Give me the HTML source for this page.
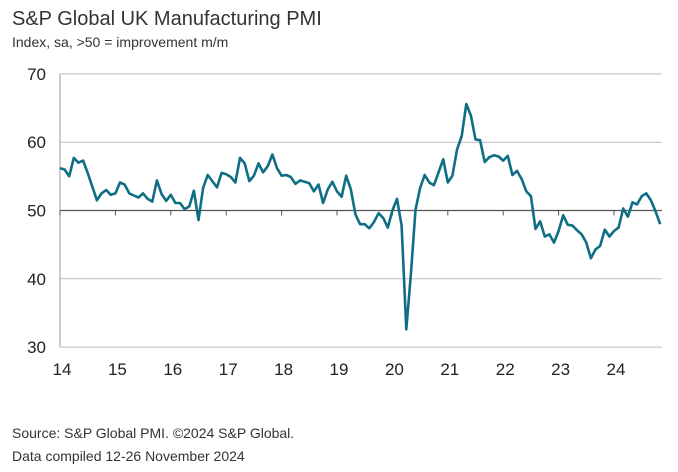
<!DOCTYPE html>
<html><head><meta charset="utf-8"><style>
body{margin:0;background:#fff;font-family:"Liberation Sans",sans-serif;}
svg text{font-family:"Liberation Sans",sans-serif;}
</style></head><body>
<svg width="678" height="467">
<text x="12" y="25" font-size="20" fill="#333">S&amp;P Global UK Manufacturing PMI</text>
<text x="12" y="47" font-size="14" fill="#333">Index, sa, &gt;50 = improvement m/m</text>
<g id="grid"></g><g id="yl"></g><g id="xl"></g>
<path id="line" fill="none" stroke="#0f6e86" stroke-width="2.6" stroke-linejoin="round"/>
<text x="12" y="438" font-size="14" fill="#333">Source: S&amp;P Global PMI. ©2024 S&amp;P Global.</text>
<text x="12" y="461" font-size="14" fill="#333">Data compiled 12-26 November 2024</text>
</svg>
<script>
const yTicks=[30,40,50,60,70];
const xLabels=["14","15","16","17","18","19","20","21","22","23","24"];
const values=[
56.2,56.0,55.0,57.7,57.0,57.3,55.5,53.5,51.5,52.5,53.0,52.3,
52.5,54.1,53.8,52.5,52.2,51.9,52.5,51.7,51.3,54.4,52.4,51.4,
52.3,51.1,51.1,50.2,50.6,52.9,48.6,53.3,55.2,54.3,53.4,55.5,
55.3,54.9,54.1,57.7,56.9,54.3,55.1,56.9,55.6,56.5,58.2,56.2,
55.1,55.2,54.9,53.9,54.4,54.2,54.0,52.8,53.8,51.1,53.1,54.2,
52.8,52.0,55.1,53.1,49.4,48.0,48.0,47.4,48.3,49.6,48.9,47.5,
50.0,51.7,47.8,32.6,40.7,50.1,53.3,55.2,54.1,53.7,55.6,57.5,
54.1,55.1,58.9,60.9,65.6,63.9,60.4,60.3,57.1,57.8,58.1,57.9,
57.3,58.0,55.2,55.8,54.6,52.8,52.1,47.3,48.4,46.2,46.5,45.3,
47.0,49.3,47.9,47.8,47.1,46.5,45.3,43.0,44.3,44.8,47.2,46.2,
47.0,47.5,50.3,49.1,51.2,50.9,52.1,52.5,51.5,49.9,48.0];
const NS="http://www.w3.org/2000/svg";
const x0=60,yr=55.4,xr=662;
const X=i=>x0+i*yr/12;
const Y=v=>210.5-(v-50)*6.83;
const g=document.getElementById('grid'),yl=document.getElementById('yl'),xl=document.getElementById('xl');
function mk(t,a,p){const e=document.createElementNS(NS,t);for(const k in a)e.setAttribute(k,a[k]);p.appendChild(e);return e;}
yTicks.forEach(v=>{
 const l=mk('line',{x1:x0,x2:xr,y1:Y(v),y2:Y(v),stroke:v==50?'#555':'#bbb','stroke-width':v==50?1.2:1},g);
 
 
 const t=mk('text',{x:46,y:Y(v)+6,'font-size':17,'text-anchor':'end',fill:'#222'},yl);
 t.textContent=v;
 
 
});
mk('line',{x1:x0,x2:x0,y1:Y(70),y2:Y(30),stroke:'#999'},g);
xLabels.forEach((s,i)=>{
 const x=x0+i*yr;
 const tk=mk('line',{x1:x,x2:x,y1:Y(50),y2:Y(50)+5,stroke:'#555'},g);
 
 
 const t=mk('text',{x:x+2,y:375,'font-size':17,'text-anchor':'middle',fill:'#222'},xl);
 t.textContent=s;
 
 
});
document.getElementById('line').setAttribute('d',values.map((v,i)=>(i?'L':'M')+X(i).toFixed(1)+' '+Y(v).toFixed(1)).join(''));
</script>
</body></html>
